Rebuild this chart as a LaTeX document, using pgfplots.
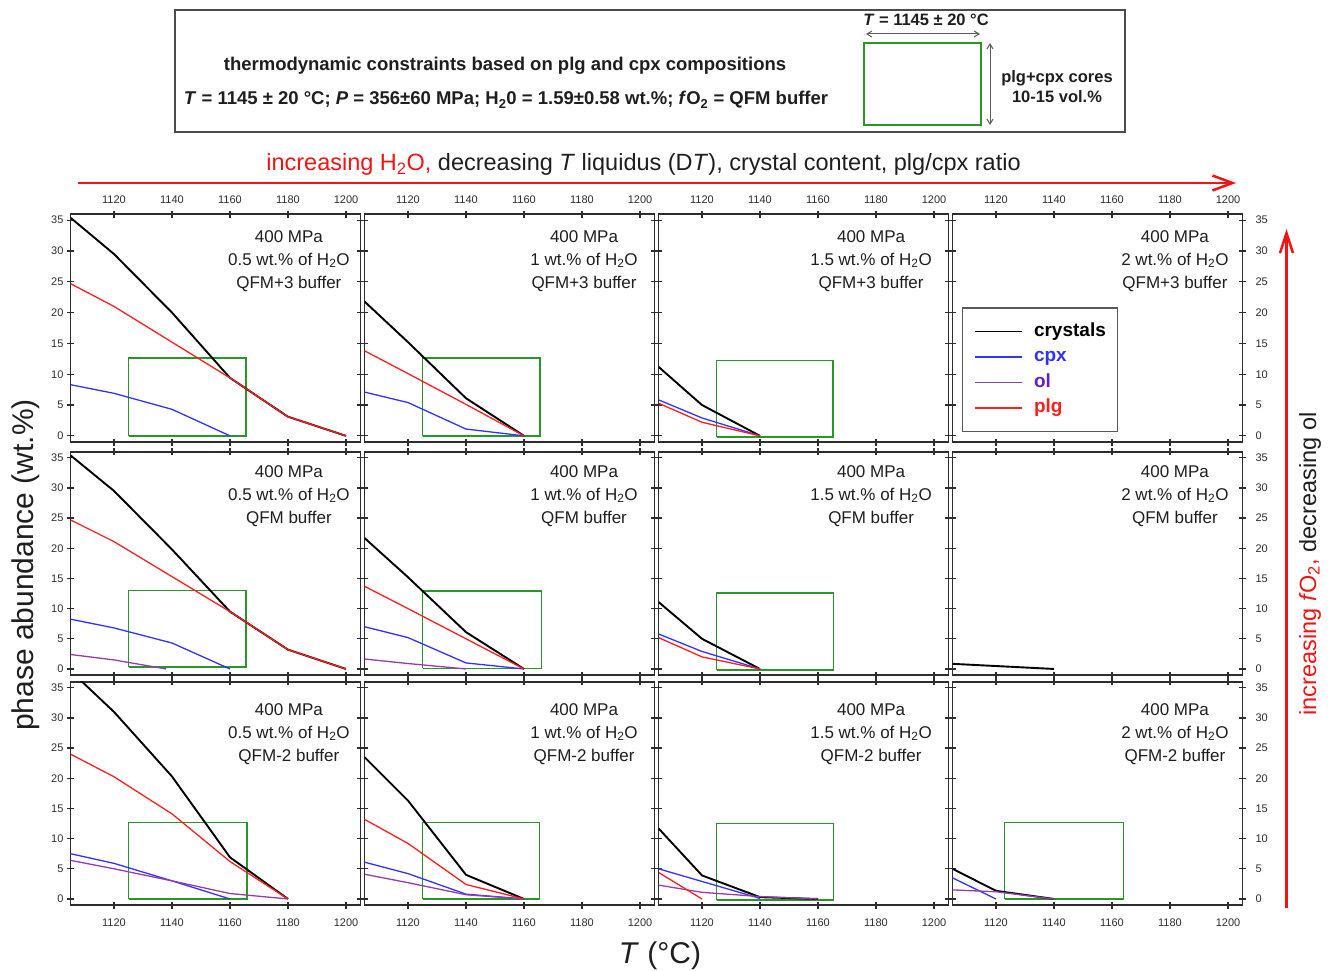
\documentclass[border=0pt]{standalone}
\usepackage{fontspec}
\setmainfont{Liberation Sans}
\usepackage{pgfplots}
\pgfplotsset{compat=1.18}
\usetikzlibrary{arrows.meta}
\definecolor{axcol}{RGB}{45,45,45}
\definecolor{cpxc}{RGB}{50,50,255}
\definecolor{olc}{RGB}{150,60,170}
\definecolor{plgc}{RGB}{255,30,30}
\definecolor{boxg}{RGB}{40,150,40}
\definecolor{oltxt}{RGB}{100,30,200}
\definecolor{arr}{RGB}{240,20,20}
\definecolor{txt}{RGB}{30,30,30}
\pgfplotsset{
  panel/.style={scale only axis, width=290pt, anchor=north west,
    xmin=1105, xmax=1205, ymin=-1, ymax=36,
    xtick={1120,1140,1160,1180,1200}, ytick={0,5,10,15,20,25,30,35},
    tick align=center, major tick length=7pt,
    axis line style={line width=1.8pt, draw=axcol},
    every tick/.append style={line width=1.3pt, draw=axcol},
    tick label style={font=\fontsize{11}{13}\selectfont, text=axcol},
    /pgf/number format/assume math mode=true,
    /pgf/number format/1000 sep={},
    scaled ticks=false},
  nox/.style={xticklabels={}},
  noy/.style={yticklabels={}},
  topx/.style={xticklabel pos=upper, xticklabel style={yshift=3pt}},
  botx/.style={xticklabel style={yshift=-7pt}},
  righty/.style={yticklabel pos=upper, yticklabel style={xshift=6pt}},
  crys/.style={black, line width=1.9pt},
  cpx/.style={cpxc, line width=1.3pt},
  ol/.style={olc, line width=1.3pt},
  plg/.style={plgc, line width=1.3pt},
  gbox/.style={boxg, line width=1.5pt, line join=miter},
}
\newcommand\ptext[4]{\node[anchor=north, align=center, inner sep=0pt, text=txt,
  font=\fontsize{17}{23}\selectfont, yshift=#2] at (rel axis cs:#1,1)
  {400 MPa\\#3 wt.\% of H\textsubscript{2}O\\#4 buffer};}
\newcommand\gb[3]{\addplot[gbox] coordinates {(1125,#2) (#1,#2) (#1,#3) (1125,#3) (1125,#2)};}
\begin{document}
\begin{tikzpicture}
\useasboundingbox (0,0) rectangle (1338pt,-971pt);
% ---------------- row 1 : QFM+3
\begin{axis}[panel, at={(70.5pt,-214pt)}, height=228pt, topx]
\gb{1165.5}{0}{12.6}
\addplot[crys] coordinates {(1105,35.4) (1120,29.5) (1140,20) (1160,9.4) (1180,3.1) (1200,0)};
\addplot[cpx] coordinates {(1105,8.3) (1120,6.9) (1140,4.3) (1160,0)};
\addplot[plg] coordinates {(1105,24.7) (1120,21.0) (1140,15.2) (1160,9.4) (1180,3.1) (1200,0)};
\ptext{0.753}{-16pt}{0.5}{QFM+3}
\end{axis}
\begin{axis}[panel, at={(364.5pt,-214pt)}, height=228pt, topx, noy]
\gb{1165.5}{0}{12.6}
\addplot[crys] coordinates {(1105,21.8) (1120,15.2) (1140,6.1) (1160,0)};
\addplot[cpx] coordinates {(1105,7.1) (1120,5.4) (1140,1.1) (1160,0)};
\addplot[plg] coordinates {(1105,13.8) (1120,10.1) (1140,5.1) (1160,0)};
\ptext{0.757}{-16pt}{1}{QFM+3}
\end{axis}
\begin{axis}[panel, at={(658.5pt,-214pt)}, height=228pt, topx, noy]
\gb{1165.2}{-0.2}{12.2}
\addplot[crys] coordinates {(1105,11.2) (1120,5.0) (1140,0)};
\addplot[cpx] coordinates {(1105,5.85) (1120,2.9) (1140,0)};
\addplot[plg] coordinates {(1105,5.3) (1120,2.2) (1140,0)};
\ptext{0.733}{-16pt}{1.5}{QFM+3}
\end{axis}
\begin{axis}[panel, at={(952.5pt,-214pt)}, height=228pt, topx, righty,
  legend style={at={(0.032,0.043)}, anchor=south west, draw=gray!70!black, line width=1.3pt,
    font=\bfseries\fontsize{19}{22}\selectfont, inner xsep=11.7pt, inner ysep=14pt,
    row sep=6.5pt, column sep=11pt,
    nodes={inner sep=0pt, text height=14pt, text depth=5pt}, cells={anchor=west}},
  legend image code/.code={\draw[#1] (0pt,0pt) -- (47pt,0pt);}]
\addlegendimage{crys}\addlegendentry{crystals}
\addlegendimage{cpx}\addlegendentry{\textcolor{cpxc}{cpx}}
\addlegendimage{ol}\addlegendentry{\textcolor{oltxt}{ol}}
\addlegendimage{plg}\addlegendentry{\textcolor{plgc}{plg}}
\ptext{0.767}{-16pt}{2}{QFM+3}
\end{axis}
% ---------------- row 2 : QFM
\begin{axis}[panel, at={(70.5pt,-451.7pt)}, height=223.3pt, nox]
\gb{1165.5}{0.3}{13.0}
\addplot[crys] coordinates {(1105,35.4) (1120,29.5) (1140,19.8) (1160,9.5) (1180,3.2) (1200,0)};
\addplot[cpx] coordinates {(1105,8.25) (1120,6.8) (1140,4.3) (1160,0)};
\addplot[ol] coordinates {(1105,2.4) (1120,1.5) (1138,0)};
\addplot[plg] coordinates {(1105,24.7) (1120,21.1) (1140,15.3) (1160,9.5) (1180,3.2) (1200,0)};
\ptext{0.753}{-13.3pt}{0.5}{QFM}
\end{axis}
\begin{axis}[panel, at={(364.5pt,-451.7pt)}, height=223.3pt, nox, noy]
\gb{1166}{0.1}{12.95}
\addplot[crys] coordinates {(1105,21.7) (1120,15.2) (1140,6.1) (1160,0)};
\addplot[cpx] coordinates {(1105,7.0) (1120,5.2) (1140,1.0) (1160,0)};
\addplot[ol] coordinates {(1105,1.65) (1120,0.9) (1140,0)};
\addplot[plg] coordinates {(1105,13.7) (1120,10.0) (1140,5.0) (1160,0)};
\ptext{0.757}{-13.3pt}{1}{QFM}
\end{axis}
\begin{axis}[panel, at={(658.5pt,-451.7pt)}, height=223.3pt, nox, noy]
\gb{1165.3}{-0.2}{12.6}
\addplot[crys] coordinates {(1105,11.1) (1120,5.0) (1140,0)};
\addplot[cpx] coordinates {(1105,5.8) (1120,2.9) (1140,0)};
\addplot[plg] coordinates {(1105,5.2) (1120,2.0) (1140,0)};
\ptext{0.733}{-13.3pt}{1.5}{QFM}
\end{axis}
\begin{axis}[panel, at={(952.5pt,-451.7pt)}, height=223.3pt, nox, righty]
\addplot[crys] coordinates {(1105,0.85) (1140,0)};
\ptext{0.767}{-13.3pt}{2}{QFM}
\end{axis}
% ---------------- row 3 : QFM-2
\begin{axis}[panel, at={(70.5pt,-681.7pt)}, height=223.3pt, botx]
\gb{1165.8}{0}{12.7}
\addplot[crys] coordinates {(1105,37.8) (1120,31.0) (1140,20.3) (1160,6.9) (1180,0)};
\addplot[cpx] coordinates {(1105,7.5) (1120,5.9) (1140,3.0) (1160,0)};
\addplot[ol] coordinates {(1105,6.4) (1120,5.0) (1140,3.0) (1160,0.9) (1180,0)};
\addplot[plg] coordinates {(1105,24.0) (1120,20.25) (1140,14.1) (1160,6.2) (1180,0)};
\ptext{0.753}{-21.5pt}{0.5}{QFM-2}
\end{axis}
\begin{axis}[panel, at={(364.5pt,-681.7pt)}, height=223.3pt, botx, noy]
\gb{1165.3}{0}{12.7}
\addplot[crys] coordinates {(1105,23.5) (1120,16.3) (1140,4.0) (1160,0)};
\addplot[cpx] coordinates {(1105,6.1) (1120,4.2) (1140,0.8) (1160,0)};
\addplot[ol] coordinates {(1105,4.1) (1120,2.7) (1140,0.7) (1160,0)};
\addplot[plg] coordinates {(1105,13.2) (1120,9.2) (1140,2.4) (1160,0)};
\ptext{0.757}{-21.5pt}{1}{QFM-2}
\end{axis}
\begin{axis}[panel, at={(658.5pt,-681.7pt)}, height=223.3pt, botx, noy]
\gb{1165.3}{-0.2}{12.5}
\addplot[crys] coordinates {(1105,11.7) (1120,3.9) (1140,0.3) (1160,0)};
\addplot[cpx] coordinates {(1105,5.0) (1120,2.9) (1140,0.1)};
\addplot[ol] coordinates {(1105,2.3) (1120,1.1) (1140,0.4) (1160,0)};
\addplot[plg] coordinates {(1105,4.4) (1120,0)};
\ptext{0.733}{-21.5pt}{1.5}{QFM-2}
\end{axis}
\begin{axis}[panel, at={(952.5pt,-681.7pt)}, height=223.3pt, botx, righty]
\addplot[gbox] coordinates {(1123,0) (1164,0) (1164,12.7) (1123,12.7) (1123,0)};
\addplot[crys] coordinates {(1105,5.0) (1120,1.35) (1140,0)};
\addplot[cpx] coordinates {(1105,3.5) (1120,0)};
\addplot[ol] coordinates {(1105,1.5) (1120,1.2) (1140,0)};
\ptext{0.767}{-21.5pt}{2}{QFM-2}
\end{axis}
% ---------------- labels and arrows
\node[rotate=90, font=\fontsize{30}{34}\selectfont, text=txt] at (26pt,-565pt) {phase abundance (wt.\%)};
\node[anchor=base, font=\fontsize{30}{34}\selectfont, text=txt] at (660pt,-963pt) {\textit{T} (°C)};
\draw[arr, line width=2.5pt, -{Straight Barb[length=20pt,width=15pt]}] (78pt,-183pt) -- (1236pt,-183pt);
\draw[arr, line width=2.5pt, -{Straight Barb[length=20pt,width=13pt]}] (1286.5pt,-908pt) -- (1286.5pt,-229pt);
\node[anchor=base, font=\fontsize{23.5}{26}\selectfont, text=txt] at (643.5pt,-170.5pt)
  {\textcolor{arr}{increasing H\textsubscript{2}O,} decreasing \textit{T} liquidus (D\textit{T}), crystal content, plg/cpx ratio};
\node[anchor=base, rotate=90, font=\fontsize{23.5}{26}\selectfont, text=txt] at (1316pt,-564pt)
  {\textcolor{arr}{increasing \textit{f}O\textsubscript{2},} decreasing ol};
% ---------------- top box
\draw[gray!60!black, line width=1.5pt] (175pt,-10pt) rectangle (1125pt,-132pt);
\node[anchor=base, font=\bfseries\fontsize{18.5}{22}\selectfont, text=txt] at (505pt,-70.7pt)
  {thermodynamic constraints based on plg and cpx compositions};
\node[anchor=base, font=\bfseries\fontsize{18.5}{22}\selectfont, text=txt] at (506pt,-105pt)
  {\textit{T} = 1145 ± 20 °C; \textit{P} = 356±60 MPa; H\textsubscript{2}0 = 1.59±0.58 wt.\%; \textit{f}O\textsubscript{2} = QFM buffer};
\node[anchor=base, font=\bfseries\fontsize{16.5}{20}\selectfont, text=txt] at (926pt,-26pt) {\textit{T} = 1145 ± 20 °C};
\draw[gray!70!black, line width=1pt, {Straight Barb[length=5pt,width=6pt]}-{Straight Barb[length=5pt,width=6pt]}] (866pt,-34pt) -- (980pt,-34pt);
\draw[boxg, line width=2pt] (864pt,-43pt) rectangle (981pt,-125pt);
\draw[gray!70!black, line width=1pt, {Straight Barb[length=5pt,width=6pt]}-{Straight Barb[length=5pt,width=6pt]}] (990pt,-43pt) -- (990pt,-125pt);
\node[anchor=base, font=\bfseries\fontsize{16.5}{20}\selectfont, text=txt] at (1057pt,-83pt) {plg+cpx cores};
\node[anchor=base, font=\bfseries\fontsize{16.5}{20}\selectfont, text=txt] at (1057pt,-103pt) {10-15 vol.\%};
\end{tikzpicture}
\end{document}
